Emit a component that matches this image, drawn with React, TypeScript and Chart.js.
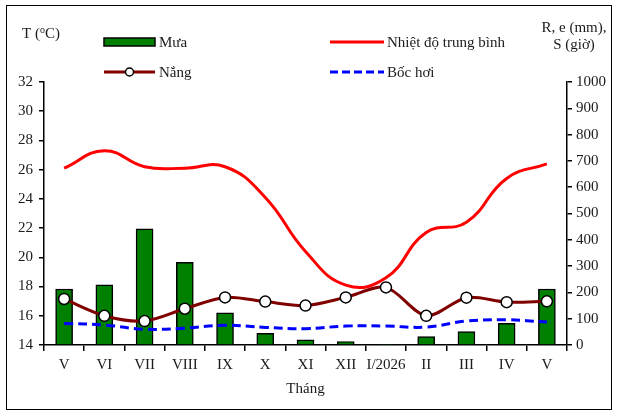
import React, { useEffect, useRef } from "react";
import { Chart, registerables } from "chart.js";

Chart.register(...registerables);

const months = ["V", "VI", "VII", "VIII", "IX", "X", "XI", "XII", "I/2026", "II", "III", "IV", "V"];
const rain = [213, 229, 442, 314, 122, 44, 20, 13, 3, 32, 51, 82, 213];
const temperature = [26.1, 27.3, 26.2, 26.1, 26.2, 24.1, 20.4, 18.1, 18.6, 21.7, 22.4, 25.4, 26.4];
const sunshine = [175, 111, 91, 138, 181, 165, 150, 181, 219, 111, 180, 163, 166];
const evaporation = [82, 76, 60, 64, 75, 67, 62, 72, 72, 68, 91, 96, 87];

const FONT = '"Liberation Serif", "Times New Roman", serif';
const TEXT = "#1a1a1a";

const overlayPlugin = {
  id: "overlay",
  afterDraw(chart: any) {
    const ctx = chart.ctx as CanvasRenderingContext2D;
    ctx.save();
    // frame
    ctx.strokeStyle = "#000";
    ctx.lineWidth = 1;
    ctx.strokeRect(6.5, 5.5, 605, 404);

    ctx.font = `15px ${FONT}`;
    ctx.fillStyle = TEXT;
    ctx.textBaseline = "middle";
    ctx.textAlign = "left";

    // legend row 1
    ctx.fillStyle = "#008000";
    ctx.fillRect(104, 38, 51, 8);
    ctx.strokeStyle = "#000";
    ctx.lineWidth = 1.5;
    ctx.strokeRect(104, 38, 51, 8);
    ctx.fillStyle = TEXT;
    ctx.fillText("Mưa", 159, 43);

    ctx.strokeStyle = "#ff0000";
    ctx.lineWidth = 3;
    ctx.beginPath();
    ctx.moveTo(330, 42);
    ctx.lineTo(384, 42);
    ctx.stroke();
    ctx.fillText("Nhiệt độ trung bình", 387, 43);

    // legend row 2
    ctx.strokeStyle = "#800000";
    ctx.lineWidth = 3;
    ctx.beginPath();
    ctx.moveTo(104, 72);
    ctx.lineTo(155, 72);
    ctx.stroke();
    ctx.beginPath();
    ctx.arc(129.5, 72, 4, 0, Math.PI * 2);
    ctx.fillStyle = "#fff";
    ctx.fill();
    ctx.strokeStyle = "#000";
    ctx.lineWidth = 1.5;
    ctx.stroke();
    ctx.fillStyle = TEXT;
    ctx.fillText("Nắng", 159, 73);

    ctx.strokeStyle = "#0000ff";
    ctx.lineWidth = 3;
    ctx.setLineDash([8, 4]);
    ctx.beginPath();
    ctx.moveTo(330, 72);
    ctx.lineTo(384, 72);
    ctx.stroke();
    ctx.setLineDash([]);
    ctx.fillText("Bốc hơi", 387, 73);

    // left axis title T (oC)
    let x = 22;
    ctx.font = `15px ${FONT}`;
    ctx.fillText("T (", x, 34);
    x += ctx.measureText("T (").width;
    ctx.font = `10px ${FONT}`;
    ctx.fillText("o", x, 30);
    x += ctx.measureText("o").width;
    ctx.font = `15px ${FONT}`;
    ctx.fillText("C)", x, 34);

    // right axis title
    ctx.textAlign = "center";
    ctx.fillText("R, e (mm),", 574, 28);
    ctx.fillText("S (giờ)", 574, 45);

    // x axis title
    ctx.fillText("Tháng", 305.5, 389);
    ctx.restore();
  },
};

export default function App() {
  const ref = useRef<HTMLCanvasElement | null>(null);

  useEffect(() => {
    if (!ref.current) return;
    const chart = new Chart(ref.current, {
      type: "bar",
      data: {
        labels: months,
        datasets: [
          {
            type: "line",
            label: "Nắng",
            data: sunshine,
            yAxisID: "yR",
            borderColor: "#800000",
            borderWidth: 3,
            pointRadius: 5.5,
            pointBackgroundColor: "#fff",
            pointBorderColor: "#000",
            pointBorderWidth: 1.5,
            tension: 0.3,
            order: 1,
          },
          {
            type: "line",
            label: "Nhiệt độ trung bình",
            data: temperature,
            yAxisID: "yL",
            borderColor: "#ff0000",
            borderWidth: 3,
            pointRadius: 0,
            tension: 0.45,
            order: 2,
          },
          {
            type: "line",
            label: "Bốc hơi",
            data: evaporation,
            yAxisID: "yR",
            borderColor: "#0000ff",
            borderWidth: 3,
            borderDash: [9, 5],
            pointRadius: 0,
            tension: 0.4,
            order: 3,
          },
          {
            type: "bar",
            label: "Mưa",
            data: rain,
            yAxisID: "yR",
            backgroundColor: "#008000",
            borderColor: "#000",
            borderWidth: 1.5,
            barThickness: 17,
            order: 10,
          },
        ],
      },
      options: {
        responsive: false,
        animation: false,
        devicePixelRatio: 1,
        layout: { padding: { top: 82, left: 0, right: 0, bottom: 0 } },
        plugins: { legend: { display: false }, tooltip: { enabled: false }, title: { display: false } },
        scales: {
          x: {
            type: "category",
            offset: true,
            grid: { display: true, offset: true, drawOnChartArea: false, drawTicks: true, tickLength: 6, color: "#000", lineWidth: 1.5 },
            border: { display: true, color: "#000", width: 1.5 },
            ticks: { color: TEXT, font: { family: FONT, size: 15 }, padding: 5, maxRotation: 0, autoSkip: false },
            afterFit: (s: any) => { s.height = 69; },
          },
          yL: {
            type: "linear",
            position: "left",
            min: 14,
            max: 32,
            ticks: { stepSize: 2, color: TEXT, font: { family: FONT, size: 15 }, padding: 6, callback: (v: any) => String(v) },
            grid: { display: true, drawOnChartArea: false, drawTicks: true, tickLength: 5, color: "#000", lineWidth: 1.5 },
            border: { display: true, color: "#000", width: 1.5 },
            afterFit: (s: any) => { s.width = 44; },
          },
          yR: {
            type: "linear",
            position: "right",
            min: 0,
            max: 1000,
            ticks: { stepSize: 100, color: TEXT, font: { family: FONT, size: 15 }, padding: 4, callback: (v: any) => String(v) },
            grid: { display: true, drawOnChartArea: false, drawTicks: true, tickLength: 5, color: "#000", lineWidth: 1.5 },
            border: { display: true, color: "#000", width: 1.5 },
            afterFit: (s: any) => { s.width = 50; },
          },
        },
      },
      plugins: [overlayPlugin],
    });
    return () => chart.destroy();
  }, []);

  return (
    <div style={{ position: "absolute", left: 0, top: 0, width: 617, height: 414, background: "#fff" }}>
      <canvas ref={ref} width={617} height={414} style={{ width: 617, height: 414, display: "block" }} />
    </div>
  );
}
